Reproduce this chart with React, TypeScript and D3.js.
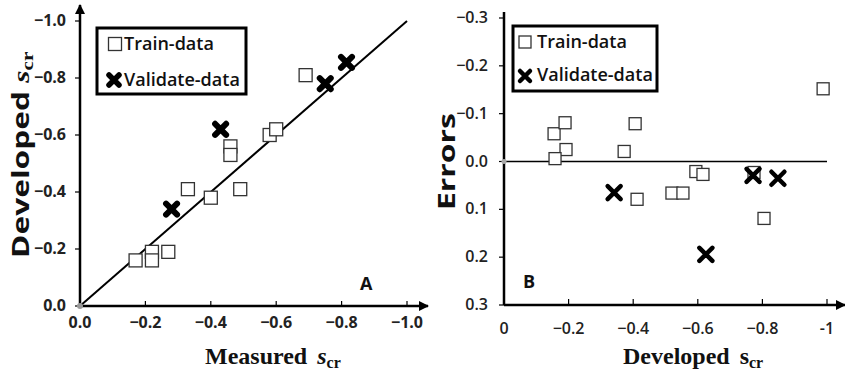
import React from "react";
import * as d3 from "d3";

// panel A: measured vs developed s_cr
const trainMeasured = [-0.17, -0.22, -0.22, -0.27, -0.33, -0.4, -0.49, -0.46, -0.46, -0.58, -0.6, -0.69];
const trainDeveloped = [-0.16, -0.19, -0.16, -0.19, -0.41, -0.38, -0.41, -0.56, -0.53, -0.6, -0.62, -0.81];
const validMeasured = [-0.28, -0.43, -0.75, -0.815];
const validDeveloped = [-0.34, -0.62, -0.78, -0.855];

// panel B: developed s_cr vs errors
const errTrainDeveloped = [-0.155, -0.189, -0.192, -0.158, -0.372, -0.406, -0.594, -0.616, -0.774, -0.988, -0.412, -0.52, -0.554, -0.805];
const errTrainValues = [-0.058, -0.081, -0.025, -0.006, -0.021, -0.079, 0.021, 0.027, 0.023, -0.152, 0.079, 0.066, 0.066, 0.119];
const errValidDeveloped = [-0.341, -0.625, -0.771, -0.848];
const errValidValues = [0.065, 0.194, 0.029, 0.035];

const ticksA = [0, -0.2, -0.4, -0.6, -0.8, -1.0];
const ticksBx = [0, -0.2, -0.4, -0.6, -0.8, -1];
const ticksBy = [-0.3, -0.2, -0.1, 0, 0.1, 0.2, 0.3];

const sans = "'Open Sans', sans-serif";
const serif = "'Liberation Serif', serif";

const Square = ({ x, y, s }: { x: number; y: number; s: number }) => (
  <rect x={x - s / 2} y={y - s / 2} width={s} height={s} fill="#fff" stroke="#333" strokeWidth={1.3} />
);

const Cross = ({ x, y, s, w }: { x: number; y: number; s: number; w: number }) => (
  <path
    d={`M${x - s / 2},${y - s / 2}L${x + s / 2},${y + s / 2}M${x + s / 2},${y - s / 2}L${x - s / 2},${y + s / 2}`}
    stroke="#000"
    strokeWidth={w}
    strokeLinecap="round"
  />
);

export default function App() {
  const xA = d3.scaleLinear().domain([0, -1]).range([80, 407]);
  const yA = d3.scaleLinear().domain([0, -1]).range([306, 21]);
  const xB = d3.scaleLinear().domain([0, -1]).range([504, 827]);
  const yB = d3.scaleLinear().domain([0.3, -0.3]).range([305, 18]);
  const fmtA = d3.format(".1f");
  const fmtB = (v: number) => (v === 0 ? "0" : v === -1 ? "-1" : d3.format(".1f")(v));

  return (
    <svg width={845} height={377} style={{ position: "absolute", left: 0, top: 0, background: "#fff" }}>
      <defs>
        <marker id="arr" viewBox="0 0 10 10" refX={9} refY={5} markerWidth={4} markerHeight={4} orient="auto">
          <path d="M0,0L10,5L0,10z" fill="#000" />
        </marker>
      </defs>

      {/* ---------- panel A ---------- */}
      <line x1={xA(0)} y1={yA(0)} x2={xA(-1)} y2={yA(-1)} stroke="#000" strokeWidth={2} />
      <line x1={xA(0)} y1={yA(0)} x2={xA(0)} y2={5} stroke="#000" strokeWidth={2.5} markerEnd="url(#arr)" />
      <line x1={xA(0)} y1={yA(0)} x2={428} y2={yA(0)} stroke="#000" strokeWidth={2.5} markerEnd="url(#arr)" />
      {ticksA.map((t) => (
        <g key={"ay" + t}>
          <line x1={xA(0) - 5} x2={xA(0)} y1={yA(t)} y2={yA(t)} stroke="#000" strokeWidth={1.2} />
          <text x={66} y={yA(t) + 5} textAnchor="end" fontFamily={sans} fontWeight={700} fontSize={16} fill="#222">
            {fmtA(t)}
          </text>
        </g>
      ))}
      {ticksA.map((t) => (
        <g key={"ax" + t}>
          {t !== 0 && <line x1={xA(t)} x2={xA(t)} y1={yA(0) - 5} y2={yA(0)} stroke="#000" strokeWidth={1.2} />}
          <text x={xA(t)} y={328} textAnchor="middle" fontFamily={sans} fontWeight={700} fontSize={16} fill="#222">
            {fmtA(t)}
          </text>
        </g>
      ))}
      <circle cx={xA(0)} cy={yA(0)} r={3} fill="#999" />
      {trainMeasured.map((m, i) => (
        <Square key={"ts" + i} x={xA(m)} y={yA(trainDeveloped[i])} s={13} />
      ))}
      {validMeasured.map((m, i) => (
        <Cross key={"vs" + i} x={xA(m)} y={yA(validDeveloped[i])} s={11} w={6} />
      ))}
      <rect x={97} y={28} width={149} height={66} fill="#fff" stroke="#000" strokeWidth={3} />
      <Square x={115} y={44} s={13} />
      <text x={124} y={50} fontFamily={sans} fontWeight={600} fontSize={18} fill="#111">Train-data</text>
      <Cross x={114} y={80} s={10} w={5.5} />
      <text x={124} y={86} fontFamily={sans} fontWeight={600} fontSize={18} fill="#111">Validate-data</text>
      <text x={360} y={290} fontFamily={sans} fontWeight={700} fontSize={18} fill="#111">A</text>

      <g transform="translate(29,258) rotate(-90) scale(1.32,1)">
        <text x={0} y={0} fontFamily={sans} fontWeight={700} fontSize={24} fill="#111">
          Developed{" "}
          <tspan fontFamily={serif} fontStyle="italic">s</tspan>
          <tspan fontFamily={serif} fontSize={16} dy={4}>cr</tspan>
        </text>
      </g>
      <text x={205} y={364} fontFamily={serif} fontWeight={700} fontSize={24} fill="#111">
        Measured{" "}
        <tspan fontStyle="italic" dx={4}>s</tspan>
        <tspan fontSize={16} dy={4}>cr</tspan>
      </text>

      {/* ---------- panel B ---------- */}
      <line x1={xB(0)} y1={yB(0)} x2={xB(-1)} y2={yB(0)} stroke="#000" strokeWidth={1.5} />
      <line x1={xB(0)} y1={yB(0.3)} x2={xB(0)} y2={12} stroke="#000" strokeWidth={2.5} />
      <line x1={xB(0)} y1={yB(0.3)} x2={845} y2={yB(0.3)} stroke="#000" strokeWidth={2.5} markerEnd="url(#arr)" />
      {ticksBy.map((t) => (
        <g key={"by" + t}>
          <line x1={xB(0) - 5} x2={xB(0)} y1={yB(t)} y2={yB(t)} stroke="#000" strokeWidth={1.2} />
          <text x={488} y={yB(t) + 5} textAnchor="end" fontFamily={sans} fontWeight={600} fontSize={16} fill="#222">
            {fmtA(t)}
          </text>
        </g>
      ))}
      {ticksBx.map((t) => (
        <g key={"bx" + t}>
          {t !== 0 && <line x1={xB(t)} x2={xB(t)} y1={yB(0.3) - 6} y2={yB(0.3)} stroke="#000" strokeWidth={1.2} />}
          <text x={xB(t)} y={334} textAnchor="middle" fontFamily={sans} fontWeight={600} fontSize={16} fill="#222">
            {fmtB(t)}
          </text>
        </g>
      ))}
      <circle cx={xB(0)} cy={yB(0)} r={2.5} fill="#aaa" />
      {errTrainDeveloped.map((d, i) => (
        <Square key={"bs" + i} x={xB(d)} y={yB(errTrainValues[i])} s={12} />
      ))}
      {errValidDeveloped.map((d, i) => (
        <Cross key={"bv" + i} x={xB(d)} y={yB(errValidValues[i])} s={13} w={4.5} />
      ))}
      <rect x={513} y={26} width={144} height={65} fill="#fff" stroke="#000" strokeWidth={3} />
      <Square x={525} y={42} s={12} />
      <text x={537} y={48} fontFamily={sans} fontWeight={600} fontSize={18} fill="#111">Train-data</text>
      <Cross x={525} y={76} s={10} w={4.5} />
      <text x={537} y={81} fontFamily={sans} fontWeight={600} fontSize={18} fill="#111">Validate-data</text>
      <text x={523} y={288} fontFamily={sans} fontWeight={700} fontSize={18} fill="#111">B</text>

      <g transform="translate(455,210) rotate(-90) scale(1.33,1)">
        <text x={0} y={0} fontFamily={sans} fontWeight={700} fontSize={24} fill="#111">Errors</text>
      </g>
      <text x={623} y={364} fontFamily={serif} fontWeight={700} fontSize={24} fill="#111">
        Developed{" "}
        <tspan dx={4}>s</tspan>
        <tspan fontSize={16} dy={4}>cr</tspan>
      </text>
    </svg>
  );
}
